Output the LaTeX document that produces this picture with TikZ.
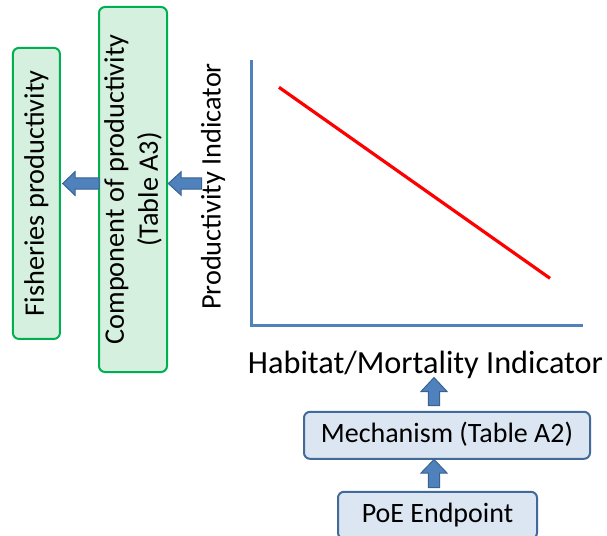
\documentclass[tikz,border=0pt]{standalone}
\usepackage{fontspec}
\setmainfont{Carlito}
\definecolor{gborder}{HTML}{00B050}
\definecolor{gfill}{HTML}{D5F0DF}
\definecolor{bfill}{HTML}{DCE6F2}
\definecolor{bborder}{HTML}{41699A}
\definecolor{arrfill}{HTML}{4F81BD}
\definecolor{arrborder}{HTML}{3A6290}
\definecolor{axisblue}{HTML}{4F81BD}
\tikzset{
  greenbox/.style={draw=gborder, fill=gfill, line width=2pt, rounded corners=6pt,
    rotate=90, align=center, inner sep=0pt, font=\fontsize{28.3}{34}\selectfont},
  bluebox/.style={draw=bborder, fill=bfill, line width=2pt, rounded corners=6pt,
    inner sep=0pt, text height=19pt, text depth=4pt, font=\fontsize{28}{34}\selectfont},
  blockarr/.style={draw=arrborder, fill=arrfill, line width=1pt, line join=miter},
  axisline/.style={draw=axisblue, line width=3pt, line join=miter},
  trend/.style={draw=red, line width=3.2pt},
  plainlabel/.style={inner sep=0pt, font=\fontsize{28.3}{34}\selectfont},
}
\begin{document}
\begin{tikzpicture}[x=1pt,y=-1pt]
\useasboundingbox (0,0) rectangle (607,535);
\begin{scope}
\clip (0,0) rectangle (607,535);
% green boxes
\node[greenbox, minimum width=291pt, minimum height=47pt] (fish) at (36.4,193.4) {Fisheries productivity};
\node[greenbox, minimum width=365pt, minimum height=68pt] (comp) at (133,189.5) {Component of productivity\\(Table A3)};
% y-axis label
\node[plainlabel, rotate=90] (ylab) at (213,186.5) {Productivity Indicator};
% axes
\coordinate (ytop) at (251.7,60);
\coordinate (orig) at (251.7,325);
\coordinate (xend) at (583,325);
\draw[axisline] (ytop) -- (orig) -- (xend);
% trend line
\coordinate (t1) at (279,87.3);
\coordinate (t2) at (550,278.3);
\draw[trend] (t1) -- (t2);
% x-axis label
\node[inner sep=0pt, anchor=base, font=\fontsize{32.3}{38}\selectfont] (xlab) at (425.5,373) {Habitat/Mortality Indicator};
% blue boxes
\node[bluebox, minimum width=286pt, minimum height=47pt] (mech) at (447,435.3) {Mechanism (Table A2)};
\node[bluebox, minimum width=199pt, minimum height=47pt] (poe) at (437.5,515.3) {PoE Endpoint};
% block arrows
\draw[blockarr] (62.7,183.5) -- (75,171.7) -- (75,177.9) -- (99,177.9) -- (99,189.1) -- (75,189.1) -- (75,195.3) -- cycle;
\draw[blockarr] (168.3,183.5) -- (181.2,171.7) -- (181.2,177.9) -- (201.7,177.9) -- (201.7,189.1) -- (181.2,189.1) -- (181.2,195.3) -- cycle;
\draw[blockarr] (434,377.5) -- (421,391.5) -- (428.3,391.5) -- (428.3,405.5) -- (439.7,405.5) -- (439.7,391.5) -- (447,391.5) -- cycle;
\draw[blockarr] (434,459.5) -- (421,473) -- (428.3,473) -- (428.3,487.5) -- (439.7,487.5) -- (439.7,473) -- (447,473) -- cycle;
\end{scope}
\end{tikzpicture}
\end{document}
